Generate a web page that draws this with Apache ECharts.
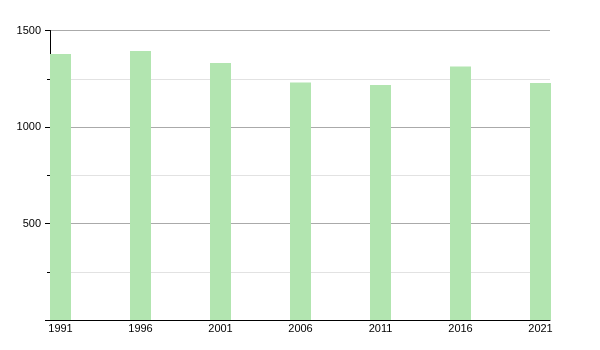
<!DOCTYPE html>
<html><head><meta charset="utf-8">
<script src="https://cdn.jsdelivr.net/npm/echarts@6/dist/echarts.min.js"></script>
<style>html,body{margin:0;padding:0;background:#fff}#c{width:600px;height:350px}</style>
</head><body><div id="c"></div>
<script>
var years = [1991, 1996, 2001, 2006, 2011, 2016, 2021];
var values = [1378, 1394, 1332, 1230, 1218, 1313, 1228];
var yTicks = [500, 1000, 1500];

var chart = echarts.init(document.getElementById('c'), null, {renderer: 'canvas'});
var font = 'Liberation Sans, Arial, sans-serif';
chart.setOption({
  animation: false,
  grid: {left: 50, right: 50, top: 30.5, bottom: 30},
  xAxis: {
    type: 'value',
    min: 1990.344,
    max: 2021.594,
    axisLine: {show: true, lineStyle: {color: '#000', width: 1}},
    axisTick: {show: false},
    splitLine: {show: false},
    axisLabel: {customValues: years, color: '#000', fontSize: 11, fontFamily: font, margin: 3, formatter: function(v){return String(v);}}
  },
  yAxis: {
    type: 'value',
    min: 0, max: 1500, interval: 500,
    axisLine: {show: true, lineStyle: {color: '#000', width: 1}},
    axisTick: {show: true, length: 5, lineStyle: {color: '#000'}},
    minorTick: {show: true, splitNumber: 2, length: 3, lineStyle: {color: '#000'}},
    splitLine: {show: true, lineStyle: {color: '#aaa', width: 1}},
    minorSplitLine: {show: true, lineStyle: {color: '#e2e2e2', width: 1}},
    axisLabel: {color: '#000', fontSize: 11, fontFamily: font, margin: 9,
      formatter: function(v){ return v === 0 ? '' : String(v); }}
  },
  series: [{
    type: 'bar',
    data: years.map(function(y, i){ return [y, values[i]]; }),
    barWidth: 21,
    itemStyle: {color: '#b2e5b0'}
  }]
});
</script>
</body></html>
